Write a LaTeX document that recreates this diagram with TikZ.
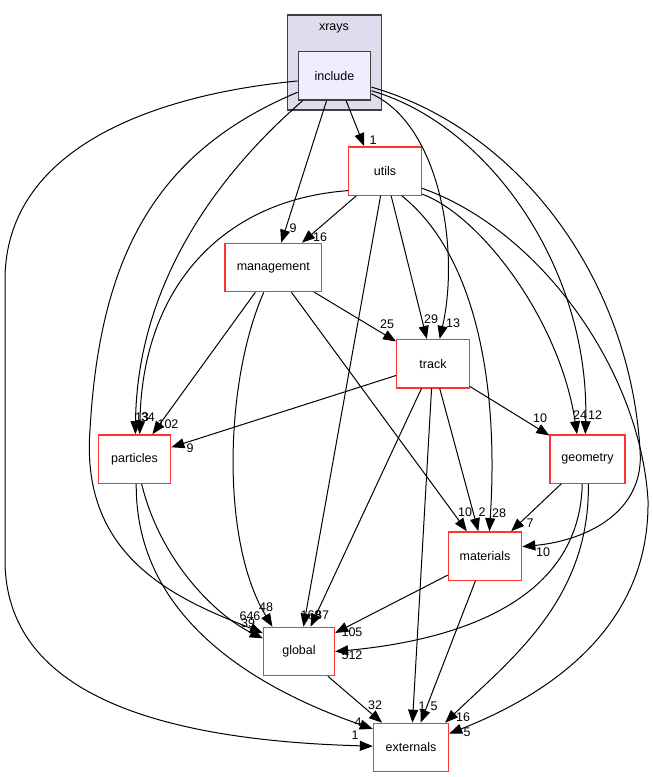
\documentclass[tikz,border=0pt]{standalone}
\usepackage{fontspec}
\setmainfont{Liberation Sans}
\usetikzlibrary{arrows.meta}
\definecolor{dirfill}{HTML}{DDDDEE}
\definecolor{incfill}{HTML}{EEEEFF}
\definecolor{dirred}{HTML}{FF3333}
\begin{document}
\begin{tikzpicture}[x=1pt,y=-1pt,
                dir/.style={draw=dirred,line width=1.3pt,fill=white,minimum width=72.5pt,minimum height=48.3pt,inner sep=0pt,font=\fontsize{12.5}{15}\selectfont},
                dep/.style={line width=1pt,-{Triangle[length=13pt,width=10pt]}},
                lbl/.style={inner sep=0pt,font=\fontsize{12.5}{15}\selectfont}]
                \useasboundingbox (0,0) rectangle (653,777);
                \filldraw[fill=dirfill,draw=black!75,line width=1.3pt] (287.3,15) rectangle (381.7,110);
                \node[lbl] (xrays) at (334,28) {xrays};
                \node[dir,draw=black!75,fill=incfill] (inc) at (334.5,75.8) {include};
                \node[dir] (utils) at (385,171) {utils};
                \node[dir,minimum width=96.7pt] (mgmt) at (273.3,267.5) {management};
                \node[dir] (track) at (433,363.7) {track};
                \node[dir] (part) at (134.5,459) {particles};
                \node[dir,minimum width=75pt] (geom) at (587.5,459) {geometry};
                \node[dir,minimum width=73.4pt] (mat) at (485,556) {materials};
                \node[dir,minimum width=71pt] (glob) at (299,651.5) {global};
                \node[dir,minimum width=75pt] (ext) at (411,747.5) {externals};
                \draw[dep] (inc.-65) -- (utils.130) node[lbl] at (373,140) {1};
                \draw[dep] (inc) -- (mgmt) node[lbl] at (293,228) {9};
                \draw[dep] (inc.218) .. controls (200,190) and (137,300) .. (part.88) node[lbl] at (142,417) {13};
                \draw[dep] (inc.204) .. controls (160,150) and (100,250) .. (90,430) .. controls (80,560) and (180,600) .. (glob.153) node[lbl] at (250,616) {646};
                \draw[dep] (inc.188) .. controls (150,95) and (5,150) .. (5,280) -- (5,560) .. controls (5,690) and (150,740) .. (ext.178) node[lbl] at (355,735) {1};
                \draw[dep] (inc.-26) .. controls (440,125) and (460,250) .. (track.75) node[lbl] at (453,323) {13};
                \draw[dep] (inc.-22) .. controls (490,125) and (590,270) .. (geom.95) node[lbl] at (595,415) {12};
                \draw[dep] (inc.-17) .. controls (520,130) and (630,280) .. (640,450) .. controls (645,510) and (590,540) .. (mat.14) node[lbl] at (543,552) {10};
                \draw[dep] (utils) -- (mgmt) node[lbl] at (320,237) {16};
                \draw[dep] (utils.208) .. controls (220,200) and (142,290) .. (part.78) node[lbl] at (148,417) {34};
                \draw[dep] (utils) -- (glob) node[lbl] at (311,615) {168};
                \draw[dep] (utils) -- (track) node[lbl] at (431,319) {29};
                \draw[dep] (utils.-56) .. controls (470,250) and (500,370) .. (mat.80) node[lbl] at (499,513) {28};
                \draw[dep] (utils.-32) .. controls (480,215) and (560,320) .. (geom.113) node[lbl] at (580,415) {24};
                \draw[dep] (utils.-25) .. controls (540,230) and (640,370) .. (648,500) .. controls (650,620) and (560,690) .. (ext.20) node[lbl] at (467,732) {5};
                \draw[dep] (mgmt) -- (part) node[lbl] at (168,424) {102};
                \draw[dep] (mgmt.249) .. controls (225,380) and (220,540) .. (glob.137) node[lbl] at (266,607) {48};
                \draw[dep] (mgmt) -- (track) node[lbl] at (387,324) {25};
                \draw[dep] (mgmt) -- (mat) node[lbl] at (465,512) {10};
                \draw[dep] (track) -- (part) node[lbl] at (190,448) {9};
                \draw[dep] (track) -- (glob) node[lbl] at (322,615) {87};
                \draw[dep] (track) -- (ext) node[lbl] at (422,706) {1};
                \draw[dep] (track) -- (mat) node[lbl] at (482,512) {2};
                \draw[dep] (track) -- (geom) node[lbl] at (540,418) {10};
                \draw[dep] (part.-74) .. controls (160,560) and (215,615) .. (glob.160) node[lbl] at (248,623) {39};
                \draw[dep] (part.-86) .. controls (135,620) and (260,690) .. (ext.154) node[lbl] at (358,722) {4};
                \draw[dep] (geom) -- (mat) node[lbl] at (530,523) {7};
                \draw[dep] (geom.-102) .. controls (580,600) and (460,640) .. (glob.0) node[lbl] at (352,655) {512};
                \draw[dep] (geom.-88) .. controls (590,600) and (510,660) .. (ext.36) node[lbl] at (463,717) {16};
                \draw[dep] (mat) -- (glob) node[lbl] at (352,632) {105};
                \draw[dep] (mat) -- (ext) node[lbl] at (434,706) {5};
                \draw[dep] (glob) -- (ext) node[lbl] at (375,705) {32};
            \end{tikzpicture}
\end{document}
